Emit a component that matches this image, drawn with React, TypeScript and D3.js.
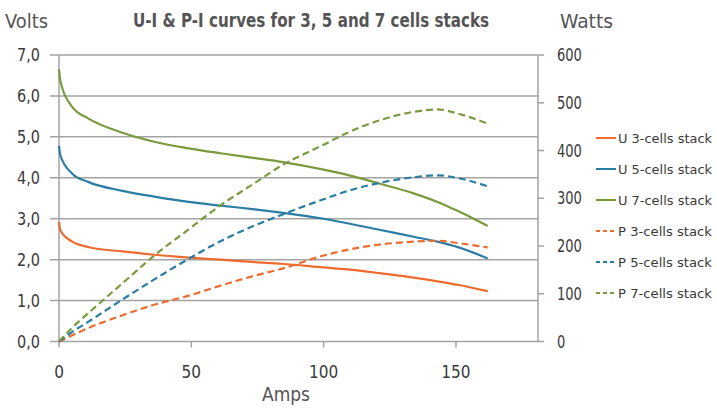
import React from "react";
import * as d3 from "d3";

const amps = [0, 0.5, 5, 11, 24, 36, 49, 61, 74, 84, 100, 109, 121, 134, 143, 151, 162];
const u3 = [2.92, 2.72, 2.44, 2.31, 2.2, 2.12, 2.05, 2.0, 1.94, 1.9, 1.81, 1.76, 1.67, 1.56, 1.47, 1.38, 1.23];
const u5 = [4.78, 4.55, 4.1, 3.9, 3.68, 3.54, 3.41, 3.32, 3.23, 3.15, 3.0, 2.89, 2.73, 2.56, 2.44, 2.3, 2.03];
const u7 = [6.65, 6.38, 5.73, 5.45, 5.1, 4.88, 4.72, 4.6, 4.48, 4.39, 4.2, 4.07, 3.86, 3.62, 3.41, 3.18, 2.82];
const p3 = [0, 1, 13, 28, 55, 77, 96, 117, 138, 152, 180, 192, 203, 209, 211, 206, 197];
const p5 = [0, 2, 20, 41, 88, 130, 173, 210, 243, 265, 298, 315, 332, 344, 348, 342, 325];
const p7 = [0, 3, 29, 59, 122, 180, 235, 285, 332, 368, 412, 437, 463, 481, 486, 477, 456];

const voltTicks = [0, 1, 2, 3, 4, 5, 6, 7];
const wattTicks = [0, 100, 200, 300, 400, 500, 600];
const ampTicks = [0, 50, 100, 150];

const seriesNames = [
  "U 3-cells stack",
  "U 5-cells stack",
  "U 7-cells stack",
  "P 3-cells stack",
  "P 5-cells stack",
  "P 7-cells stack",
];

const ORANGE = "#EE6B2F";
const BLUE = "#2C7DA3";
const GREEN = "#7B9A3E";
const FONT = "'DejaVu Sans Condensed', 'DejaVu Sans', sans-serif";

export default function App() {
  const W = 717, H = 408;
  const x0 = 59, x1 = 538, yTop = 55, yBot = 341.5;
  const x = d3.scaleLinear().domain([0, 181]).range([x0, x1]);
  const yV = d3.scaleLinear().domain([0, 7]).range([yBot, yTop]);
  const yW = d3.scaleLinear().domain([0, 600]).range([yBot, yTop]);

  const lineV = d3.line<number>().x((_, i) => x(amps[i])).y((d) => yV(d)).curve(d3.curveMonotoneX);
  const lineW = d3.line<number>().x((_, i) => x(amps[i])).y((d) => yW(d)).curve(d3.curveMonotoneX);

  const series = [
    { name: seriesNames[0], d: lineV(u3), color: ORANGE, dash: undefined },
    { name: seriesNames[1], d: lineV(u5), color: BLUE, dash: undefined },
    { name: seriesNames[2], d: lineV(u7), color: GREEN, dash: undefined },
    { name: seriesNames[3], d: lineW(p3), color: ORANGE, dash: "7 4" },
    { name: seriesNames[4], d: lineW(p5), color: BLUE, dash: "7 4" },
    { name: seriesNames[5], d: lineW(p7), color: GREEN, dash: "7 4" },
  ];

  const gridColor = "#a3a3a3";
  const textColor = "#3a3a3a";
  const adj = "spacingAndGlyphs" as const;

  return (
    <svg width={W} height={H} style={{ position: "absolute", left: 0, top: 0, background: "#fff", fontStretch: "condensed" }} fontFamily={FONT}>
      <rect width={W} height={H} fill="#fff" />
      {/* title */}
      <text x={133} y={27} fontSize={19} fontWeight="bold" fill="#555" textLength={356} lengthAdjust={adj}>
        U-I &amp; P-I curves for 3, 5 and 7 cells stacks
      </text>
      <text x={5} y={28} fontSize={19} fill="#555" textLength={43} lengthAdjust={adj}>Volts</text>
      <text x={560} y={28} fontSize={19} fill="#555" textLength={53} lengthAdjust={adj}>Watts</text>

      {/* gridlines */}
      {voltTicks.map((t) => (
        <line key={"g" + t} x1={50} x2={x1} y1={yV(t)} y2={yV(t)} stroke={gridColor} strokeWidth={1.5} />
      ))}
      {voltTicks.map((t) => (
        <text key={"lv" + t} x={17} y={yV(t) + 6} fontSize={17} fill={textColor} textLength={23} lengthAdjust={adj}>
          {d3.format(".1f")(t).replace(".", ",")}
        </text>
      ))}
      {/* left axis */}
      <line x1={x0} x2={x0} y1={yTop} y2={yBot} stroke={gridColor} strokeWidth={1.5} />
      {/* right axis */}
      <line x1={x1} x2={x1} y1={yTop} y2={yBot} stroke={gridColor} strokeWidth={1.5} />
      {wattTicks.map((t) => (
        <g key={"w" + t}>
          <line x1={x1} x2={x1 + 6} y1={yW(t)} y2={yW(t)} stroke={gridColor} strokeWidth={1.5} />
          <text x={557} y={yW(t) + 6} fontSize={17} fill={textColor} textLength={String(t).length * 8.3} lengthAdjust={adj}>{t}</text>
        </g>
      ))}
      {/* bottom ticks */}
      {ampTicks.map((t) => (
        <g key={"a" + t}>
          <line x1={x(t)} x2={x(t)} y1={yBot} y2={yBot + 6} stroke={gridColor} strokeWidth={1.5} />
          <text x={x(t)} y={378} textAnchor="middle" fontSize={17} fill={textColor}>{t}</text>
        </g>
      ))}
      <text x={262} y={401} fontSize={19} fill="#555" textLength={48} lengthAdjust={adj}>Amps</text>

      {/* series */}
      {series.map((s) => (
        <path key={s.name} d={s.d || ""} fill="none" stroke={s.color} strokeWidth={2.2} strokeDasharray={s.dash} />
      ))}

      {/* legend */}
      {series.map((s, i) => {
        const ly = 138 + i * 31;
        return (
          <g key={"lg" + i}>
            <line x1={596} x2={616} y1={ly} y2={ly} stroke={s.color} strokeWidth={2} strokeDasharray={s.dash ? "4 3" : undefined} />
            <text x={618} y={ly + 5} fontSize={13} fill={textColor} textLength={94} lengthAdjust={adj}>{s.name}</text>
          </g>
        );
      })}
    </svg>
  );
}
